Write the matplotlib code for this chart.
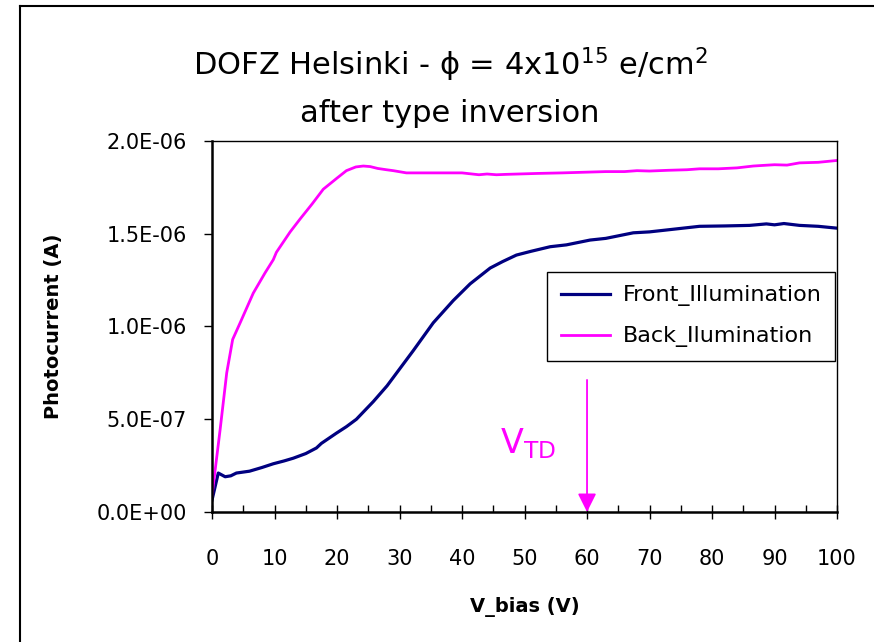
import matplotlib
matplotlib.use("Agg")
import matplotlib.pyplot as plt
from matplotlib.lines import Line2D

plt.rcParams['font.family'] = ['DejaVu Sans']
plt.rcParams['mathtext.fontset'] = 'dejavusans'

# photocurrent vs bias, front side illumination
front_v = [0.0, 1.0, 2.1, 3.0, 3.9, 6.0, 8.0, 9.8, 11.5, 13.0, 15.0, 16.7, 17.5,
           19.9, 21.5, 23.1, 25.8, 28.0, 30.1, 32.2, 35.4, 38.6, 41.3, 44.5,
           46.5, 48.7, 51.0, 54.1, 56.7, 60.5, 63.0, 67.4, 70.0, 74.0, 78.0,
           82.0, 86.0, 88.7, 90.0, 91.5, 94.0, 97.0, 100.0]
front_i = [0.065, 0.21, 0.19, 0.195, 0.21, 0.22, 0.24, 0.26, 0.275, 0.29, 0.315,
           0.345, 0.37, 0.425, 0.46, 0.50, 0.595, 0.68, 0.775, 0.87, 1.02, 1.14,
           1.23, 1.315, 1.35, 1.385, 1.405, 1.43, 1.44, 1.466, 1.475, 1.505,
           1.51, 1.525, 1.54, 1.542, 1.545, 1.553, 1.548, 1.555, 1.545, 1.54, 1.53]

# photocurrent vs bias, back side illumination
back_v = [0.0, 1.28, 2.35, 3.3, 4.5, 6.6, 8.5, 9.8, 10.3, 12.5, 14.1, 16.0,
          17.8, 18.9, 20.0, 21.5, 23.0, 24.2, 25.3, 26.5, 27.9, 29.0, 31.1,
          35.0, 38.0, 40.0, 42.7, 44.0, 45.5, 47.0, 49.0, 52.0, 56.0, 60.0,
          63.0, 66.0, 68.0, 70.0, 73.0, 76.0, 78.0, 81.0, 84.0, 86.6, 88.0,
          90.0, 92.0, 94.0, 97.0, 100.0]
back_i = [0.09, 0.44, 0.75, 0.93, 1.02, 1.18, 1.29, 1.36, 1.40, 1.51, 1.58, 1.66,
          1.74, 1.77, 1.80, 1.84, 1.86, 1.865, 1.862, 1.852, 1.845, 1.84, 1.828,
          1.828, 1.828, 1.828, 1.818, 1.822, 1.818, 1.82, 1.822, 1.825, 1.828,
          1.832, 1.835, 1.835, 1.84, 1.838, 1.842, 1.845, 1.85, 1.85, 1.855,
          1.865, 1.868, 1.872, 1.87, 1.882, 1.885, 1.895]

v_td = 60.0

front_i = [c * 1e-6 for c in front_i]
back_i = [c * 1e-6 for c in back_i]

fig = plt.figure(figsize=(8.74, 6.42), dpi=100)
ax = fig.add_axes([0.2426, 0.2025, 0.7151, 0.5779])

# outer frame (left and top edges only)
fig.add_artist(Line2D([20 / 874, 20 / 874], [0, 1 - 6 / 642],
                      transform=fig.transFigure, color='black', lw=1.5))
fig.add_artist(Line2D([20 / 874, 1], [1 - 6 / 642, 1 - 6 / 642],
                      transform=fig.transFigure, color='black', lw=1.5))

ax.plot(front_v, front_i, color='#000080', lw=2.3, label='Front_Illumination')
ax.plot(back_v, back_i, color='#FF00FF', lw=2.0, label='Back_Ilumination')

ax.set_xlim(0, 100)
ax.set_ylim(0, 2.0e-6)
ax.set_xticks(range(0, 101, 10))
ax.set_xticks(range(5, 100, 10), minor=True)
ax.set_yticks([0, 0.5e-6, 1.0e-6, 1.5e-6, 2.0e-6])
ax.set_yticklabels(['0.0E+00', '5.0E-07', '1.0E-06', '1.5E-06', '2.0E-06'])

ax.tick_params(axis='x', which='major', direction='inout', length=10, width=1,
               labelsize=15, pad=22)
ax.tick_params(axis='x', which='minor', direction='in', length=5, width=1)
ax.tick_params(axis='y', which='major', direction='out', length=6, width=1,
               labelsize=15, pad=12)
for side in ['left', 'bottom']:
    ax.spines[side].set_linewidth(1.8)
for side in ['top', 'right']:
    ax.spines[side].set_linewidth(1.0)

ax.set_xlabel('V_bias (V)', fontsize=14, fontweight='bold', labelpad=20)
ax.set_ylabel('Photocurrent (A)', fontsize=14, fontweight='bold', labelpad=24)

fig.text(0.515, 1 - 65 / 642, 'DOFZ Helsinki - \u03d5 = 4x10$^{15}$ e/cm$^{2}$',
         ha='center', va='center', fontsize=22)
fig.text(0.515, 1 - 114 / 642, 'after type inversion',
         ha='center', va='center', fontsize=22)

leg = ax.legend(loc='upper right', bbox_to_anchor=(0.997, 0.647), fontsize=16,
                frameon=True, fancybox=False, edgecolor='black', framealpha=1,
                handlelength=2.2, handletextpad=0.6, borderpad=0.6,
                labelspacing=0.9, borderaxespad=0)
leg.get_frame().set_linewidth(1.0)

# depletion voltage marker
ax.annotate('', xy=(v_td, 0), xytext=(v_td, 0.712e-6),
            arrowprops=dict(arrowstyle='-|>', color='#FF00FF', lw=1.3,
                            mutation_scale=28, shrinkA=0, shrinkB=0))
ax.text(46.0, 0.37e-6, r'V$_{\mathregular{TD}}$', color='#FF00FF', fontsize=24,
        ha='left', va='center')

fig.savefig('out.png', dpi=100)
